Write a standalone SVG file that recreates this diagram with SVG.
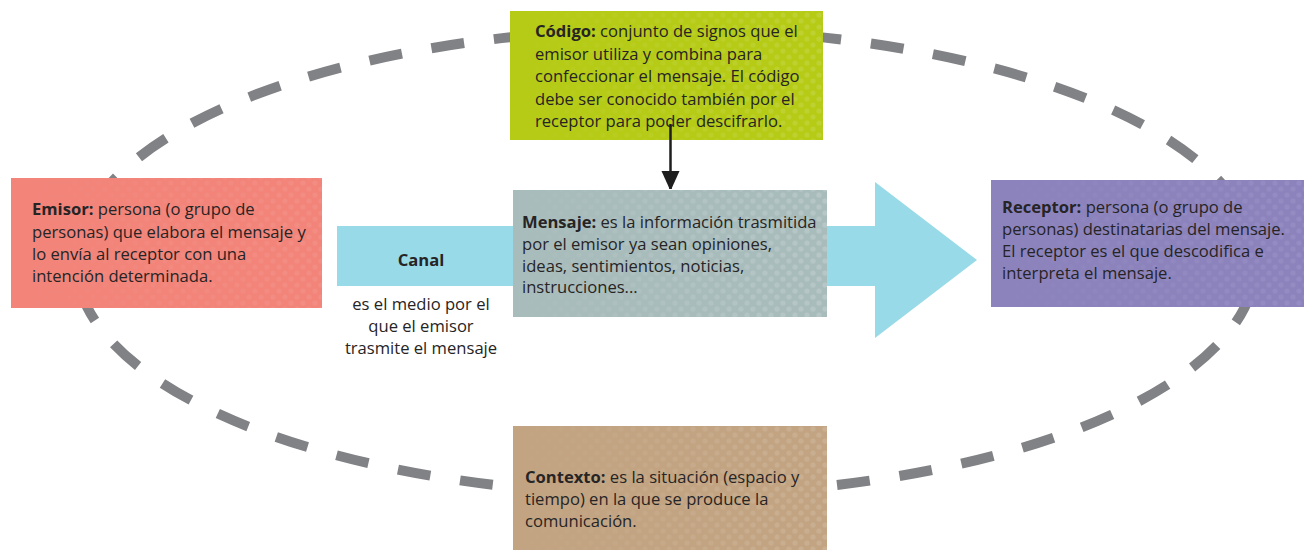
<svg xmlns="http://www.w3.org/2000/svg" width="1307" height="550" viewBox="0 0 1307 550">
<style>
.t{font-family:"Open Sans","Noto Sans",sans-serif;font-size:16.6px;fill:#262425}
.b{font-weight:bold}
.c{text-anchor:middle}
</style>
<defs>
<pattern id="dots" width="12" height="12" patternUnits="userSpaceOnUse">
<circle cx="3" cy="3" r="2.6" fill="#fff"/>
<circle cx="9" cy="9" r="2.6" fill="#fff"/>
</pattern>
<linearGradient id="fade" x1="0" y1="0" x2="1" y2="0">
<stop offset="0" stop-color="#fff" stop-opacity="0"/>
<stop offset="1" stop-color="#fff" stop-opacity="1"/>
</linearGradient>
<mask id="fm" maskContentUnits="objectBoundingBox">
<rect width="1" height="1" fill="url(#fade)"/>
</mask>
<marker id="ah" viewBox="0 0 18 20" refX="18" refY="9" markerWidth="18" markerHeight="20" markerUnits="userSpaceOnUse" orient="auto">
<path d="M0,0 L20,9 L0,18 Z" fill="#1e1e1e"/>
</marker>
</defs>
<g id="ring">
<ellipse cx="666" cy="262" rx="590" ry="233" fill="none" stroke="#818286" stroke-width="10" stroke-dasharray="33 30" stroke-dashoffset="31.3"/>
</g>
<g id="canal">
<polygon points="337,226 875,226 875,182 977,260 875,338 875,286 337,286" fill="#99dae9"/>
<text class="t b c" x="421" y="266">Canal</text>
<text class="t c" x="421" y="310">es el medio por el</text>
<text class="t c" x="421" y="332">que el emisor</text>
<text class="t c" x="421" y="354">trasmite el mensaje</text>
</g>
<g id="emisor">
<rect x="11" y="178" width="311" height="130" fill="#f2847a"/>
<rect x="11" y="178" width="311" height="130" fill="url(#dots)" opacity="0.07" mask="url(#fm)"/>
<text class="t" x="32" y="215"><tspan class="b">Emisor:</tspan> persona (o grupo de</text>
<text class="t" x="32" y="238">personas) que elabora el mensaje y</text>
<text class="t" x="32" y="260">lo envía al receptor con una</text>
<text class="t" x="32" y="282">intención determinada.</text>
</g>
<g id="codigo">
<rect x="510" y="11" width="313" height="129" fill="#b5cb16"/>
<rect x="510" y="11" width="313" height="129" fill="url(#dots)" opacity="0.12" mask="url(#fm)"/>
<text class="t" x="535" y="37"><tspan class="b">Código:</tspan> conjunto de signos que el</text>
<text class="t" x="535" y="60">emisor utiliza y combina para</text>
<text class="t" x="535" y="82">confeccionar el mensaje. El código</text>
<text class="t" x="535" y="105">debe ser conocido también por el</text>
<text class="t" x="535" y="127">receptor para poder descifrarlo.</text>
</g>
<g id="mensaje">
<rect x="513" y="190" width="314" height="127" fill="#a9bcbc"/>
<rect x="513" y="190" width="314" height="127" fill="url(#dots)" opacity="0.16" mask="url(#fm)"/>
<text class="t" x="522" y="228"><tspan class="b">Mensaje:</tspan> es la información trasmitida</text>
<text class="t" x="522" y="250">por el emisor ya sean opiniones,</text>
<text class="t" x="522" y="272">ideas, sentimientos, noticias,</text>
<text class="t" x="522" y="293">instrucciones...</text>
</g>
<g id="receptor">
<rect x="991" y="180" width="313" height="127" fill="#8c83bd"/>
<rect x="991" y="180" width="313" height="127" fill="url(#dots)" opacity="0.07" mask="url(#fm)"/>
<text class="t" x="1002" y="213"><tspan class="b">Receptor:</tspan> persona (o grupo de</text>
<text class="t" x="1002" y="235">personas) destinatarias del mensaje.</text>
<text class="t" x="1002" y="257">El receptor es el que descodifica e</text>
<text class="t" x="1002" y="279">interpreta el mensaje.</text>
</g>
<g id="contexto">
<rect x="513" y="426" width="314" height="124" fill="#c2a482"/>
<rect x="513" y="426" width="314" height="124" fill="url(#dots)" opacity="0.12" mask="url(#fm)"/>
<text class="t" x="525" y="483"><tspan class="b">Contexto:</tspan> es la situación (espacio y</text>
<text class="t" x="525" y="505">tiempo) en la que se produce la</text>
<text class="t" x="525" y="527">comunicación.</text>
</g>
<g id="connectors">
<line x1="670.5" y1="124" x2="670.5" y2="189" stroke="#1e1e1e" stroke-width="2.5" marker-end="url(#ah)"/>
</g>
</svg>
